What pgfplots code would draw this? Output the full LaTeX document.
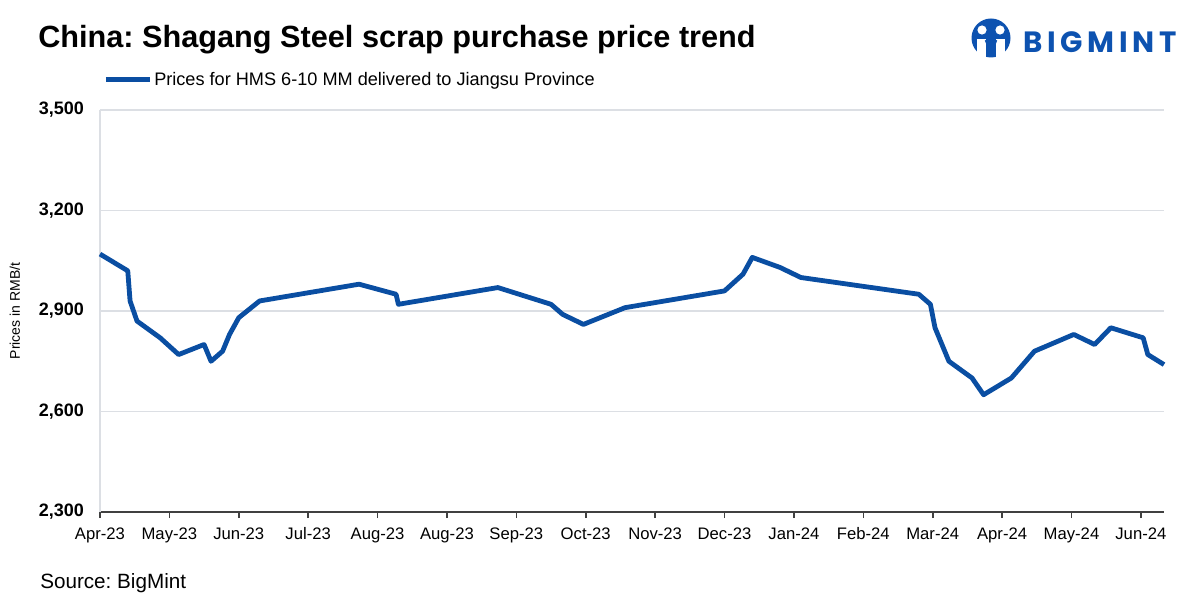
\documentclass[border=0pt]{standalone}
\usepackage{fontspec}
\setmainfont{Liberation Sans}
\newfontfamily\logofont[LetterSpace=16]{Poppins}
\usepackage{pgfplots}
\pgfplotsset{compat=1.18}
\frenchspacing

\definecolor{lineblue}{HTML}{0A4EA2}
\definecolor{logoblue}{HTML}{0D52B0}
\definecolor{gridgray}{HTML}{DCDFE4}
\definecolor{axisdark}{HTML}{404040}

\pgfplotstableread{
day price
0 3070
12 3020
13 2930
16 2870
26 2820
34 2770
45 2800
48 2750
53 2780
56 2830
60 2880
69 2930
112 2980
128 2950
129 2920
172 2970
195 2920
200 2890
209 2860
227 2910
270 2960
278 3010
282 3060
294 3030
303 3000
354 2950
359 2920
361 2850
367 2750
377 2700
382 2650
394 2700
404 2780
421 2830
430 2800
437 2850
451 2820
453 2770
460 2740
}\prices

\begin{document}
\begin{tikzpicture}
\begin{axis}[
  at={(0,0)}, anchor=south west,
  scale only axis,
  width=798pt, height=301.5pt,
  xmin=0, xmax=460,
  ymin=2300, ymax=3500,
  xtick={0,30,...,450},
  xticklabels={Apr-23,May-23,Jun-23,Jul-23,Aug-23,Aug-23,Sep-23,Oct-23,Nov-23,Dec-23,Jan-24,Feb-24,Mar-24,Apr-24,May-24,Jun-24},
  ytick={2300,2600,...,3500},
  scaled y ticks=false,
  /pgf/number format/.cd, 1000 sep={,}, assume math mode=true,
  /pgfplots/.cd,
  axis lines=left,
  axis line style={-},
  x axis line style={draw=axisdark, line width=1.8pt},
  y axis line style={draw=gridgray, line width=1.2pt},
  tick align=outside,
  major tick length=4.5pt,
  xtick style={draw=axisdark, line width=1.2pt},
  ytick style={draw=none},
  ymajorgrids,
  grid style={draw=gridgray, line width=1.1pt},
  xticklabel style={font=\fontsize{12.5}{14}\selectfont, text=black, text height=9.5pt, text depth=2.5pt, yshift=-3pt},
  yticklabel style={font=\bfseries\fontsize{13.5}{15}\selectfont, text=black, xshift=-4pt},
  ylabel={Prices in RMB/t},
  ylabel style={font=\fontsize{10.5}{12}\selectfont, at={(axis description cs:-0.0799,0.5)}, anchor=center},
  legend style={at={(0.003,1.075)}, anchor=west, draw=none, fill=none, inner sep=0pt,
    font=\fontsize{13.6}{15}\selectfont, nodes={inner xsep=1.5pt}},
  legend cell align=left,
  legend image code/.code={\draw[#1] (0pt,0pt) -- (33pt,0pt);},
  clip=false,
]
\addplot[lineblue, line width=3.6pt, line join=round] table[x=day, y=price] {\prices};
\addlegendentry{Prices for HMS 6-10 MM delivered to Jiangsu Province}
\end{axis}

\begin{scope}[x=0.75pt, y=0.75pt]
  \path[use as bounding box] (-100,-88) rectangle (1101,512);
  \node[anchor=base west, inner sep=0pt, font=\bfseries\fontsize{23}{26}\selectfont] at (-62,464)
    {China: Shagang Steel scrap purchase price trend};
  \node[anchor=base west, inner sep=0pt, font=\fontsize{15.5}{18}\selectfont] at (-60,-76)
    {Source: BigMint};
  % logo
  \fill[logoblue] (891,474) circle (19.5);
  \fill[white] (877,449) rectangle (886,473);
  \fill[white] (896,449) rectangle (905,473);
  \fill[white] (882,482) circle (4.6);
  \fill[white] (900,482) circle (4.6);
  \draw[logoblue, line width=2pt] (886,472) -- (891,460) -- (896,472);
  \node[anchor=base west, inner sep=0pt, text=logoblue, font=\logofont\bfseries\fontsize{22}{25}\selectfont] at (923,459)
    {BIGMINT};
\end{scope}
\end{tikzpicture}
\end{document}
